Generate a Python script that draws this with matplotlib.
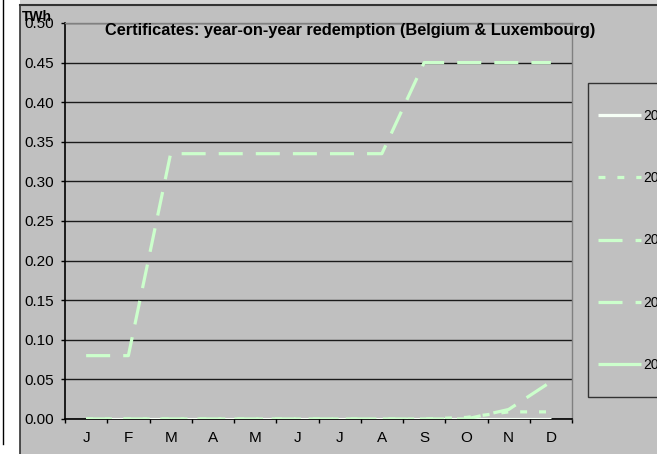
import numpy as np
import matplotlib
matplotlib.use("Agg")
import matplotlib.pyplot as plt
from matplotlib.patches import Rectangle
from matplotlib.lines import Line2D

plt.rcParams['font.family'] = ['Liberation Sans', 'DejaVu Sans']
plt.rcParams['lines.scale_dashes'] = False

# data
months = ["J", "F", "M", "A", "M", "J", "J", "A", "S", "O", "N", "D"]
years = ["2003", "2004", "2005", "2006", "2007"]
s2003 = [0, 0, 0, 0, 0, 0, 0, 0, 0, 0, 0, 0]
s2004 = [0, 0, 0, 0, 0, 0, 0, 0, 0, 0.002, 0.009, 0.009]
s2005 = [0, 0, 0, 0, 0, 0, 0, 0, 0, 0, 0.012, 0.047]
s2006 = [0.08, 0.08, 0.335, 0.335, 0.335, 0.335, 0.335, 0.335, 0.45, 0.45, 0.45, 0.45]
s2007 = [np.nan] * 12

bg = "#c0c0c0"
green = "#ccffcc"
white = "#f6fff6"

W, H = 657, 454
fig = plt.figure(figsize=(W / 100, H / 100), dpi=100, facecolor="white")

# chart frame decorations
fig.patches.append(Rectangle((20 / W, 0), 1 - 20 / W, 1 - 5 / H, transform=fig.transFigure,
                             facecolor=bg, edgecolor="none", zorder=-2))
fig.patches.append(Rectangle((20 / W, 1 - 5 / H), 1 - 20 / W, 5 / H, transform=fig.transFigure,
                             facecolor="#d4d4d4", edgecolor="none", zorder=-2))
fig.lines.append(Line2D([20 / W, 1], [1 - 5 / H, 1 - 5 / H], transform=fig.transFigure,
                        color="#333333", lw=1.5))
fig.lines.append(Line2D([20 / W, 20 / W], [0, 1 - 5 / H], transform=fig.transFigure,
                        color="#333333", lw=1.2))
fig.lines.append(Line2D([2.5 / W, 2.5 / W], [10 / H, 1], transform=fig.transFigure,
                        color="black", lw=1.0))
# legend box (runs off the right edge)
fig.patches.append(Rectangle((588 / W, 1 - 397 / H), 100 / W, (397 - 83) / H,
                             transform=fig.transFigure, facecolor=bg,
                             edgecolor="#333333", lw=1.0, zorder=-1))

ax = fig.add_axes([65 / W, 1 - 419 / H, (572 - 65) / W, (419 - 23) / H])
ax.set_facecolor(bg)

x = np.arange(len(months))
lw = 2.3
ax.plot(x, s2003, color=white, lw=lw, solid_capstyle="butt", label=years[0], zorder=3)
ax.plot(x, s2004, color=green, lw=lw, dashes=(5, 8.6), dash_capstyle="butt", label=years[1], zorder=3)
ax.plot(x, s2005, color=green, lw=lw, dashes=(17.3, 9.4), dash_capstyle="butt", label=years[2], zorder=3)
ax.plot(x, s2006, color=green, lw=lw, dashes=(17.3, 9.4), dash_capstyle="butt", label=years[3], zorder=3)
ax.plot(x, s2007, color=green, lw=lw, solid_capstyle="butt", label=years[4], zorder=3)

ax.set_xlim(-0.5, 11.5)
ax.set_ylim(0, 0.5)
ax.set_yticks(np.arange(0, 0.501, 0.05))
ax.set_yticklabels([f"{v:.2f}" for v in np.arange(0, 0.501, 0.05)])
ax.yaxis.grid(True, color="#1a1a1a", lw=1.0)
ax.set_axisbelow(True)

ax.set_xticks(np.arange(-0.5, 12, 1))
ax.set_xticklabels([])
ax.set_xticks(x, minor=True)
ax.set_xticklabels(months, minor=True)
ax.tick_params(axis="x", which="major", direction="out", length=3, width=1, color="black")
ax.tick_params(axis="x", which="minor", length=0, pad=9, labelsize=11)
ax.tick_params(axis="y", direction="out", length=3, width=1, color="black", pad=5, labelsize=11)

for s in ("top", "right"):
    ax.spines[s].set_color("#808080")
    ax.spines[s].set_linewidth(1.0)
for s in ("left", "bottom"):
    ax.spines[s].set_color("black")
    ax.spines[s].set_linewidth(1.2)

fig.text(350 / W, 1 - 30 / H, "Certificates: year-on-year redemption (Belgium & Luxembourg)",
         ha="center", va="center", fontsize=11.8, fontweight="bold")
fig.text(22 / W, 1 - 17 / H, "TWh", ha="left", va="center", fontsize=10, fontweight="bold")

fig.legend(loc="upper left", bbox_to_anchor=(598 / W, 1 - 109 / H), borderaxespad=0,
           fontsize=10, frameon=False, borderpad=0, labelspacing=3.47,
           handlelength=3.1, handletextpad=0.15)

fig.savefig("out.png", dpi=100, facecolor=fig.get_facecolor())
